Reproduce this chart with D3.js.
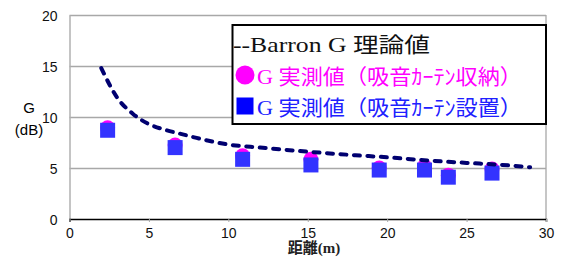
<!DOCTYPE html>
<html><head><meta charset="utf-8">
<script src="https://cdn.jsdelivr.net/npm/d3@7"></script>
<style>html,body{margin:0;padding:0;background:#fff;}svg{display:block;}</style>
</head><body>
<script>
// ---- data ----
const xTicks = [0, 5, 10, 15, 20, 25, 30];
const yTicks = [0, 5, 10, 15, 20];
const theoryX = [2, 3, 4, 5, 6, 7, 8, 10, 12, 15, 18, 20, 22, 25, 27, 29];
const theoryG = [14.8, 11.9, 10.3, 9.3, 8.75, 8.35, 7.95, 7.3, 7.0, 6.6, 6.25, 6.05, 5.8, 5.5, 5.33, 5.07];
const measX = [2.4, 6.65, 10.9, 15.2, 19.5, 22.35, 23.85, 26.6];
const measStored = [8.95, 7.25, 6.2, 5.85, 5.0, 5.15, 4.3, 4.9];
const measInstalled = [8.7, 7.0, 5.85, 5.3, 4.8, 4.8, 4.1, 4.5];
const legendLabels = ["--Barron G 理論値", "G 実測値（吸音ｶｰﾃﾝ収納）", "G 実測値（吸音ｶｰﾃﾝ設置）"];
const xTitle = "距離(m)";
const yTitle = ["G", "(dB)"];

const W = 561, H = 257;
const svg = d3.select("body").append("svg").attr("width", W).attr("height", H);
const x = d3.scaleLinear().domain([0, 30]).range([69.5, 546]);
const y = d3.scaleLinear().domain([0, 20]).range([219, 15]);
const sans = "'Liberation Sans', Arial, sans-serif";
const serif = "'Liberation Serif', 'Noto Sans CJK JP', serif";

// gridlines
svg.append("g").selectAll("line").data(yTicks.filter(d => d > 0)).join("line")
  .attr("x1", x(0)).attr("x2", x(30))
  .attr("y1", d => Math.round(y(d)) + 0.5).attr("y2", d => Math.round(y(d)) + 0.5)
  .attr("stroke", "#a8a8a8").attr("stroke-width", 1.3);
// right border
svg.append("line").attr("x1", x(30)).attr("x2", x(30)).attr("y1", y(20)).attr("y2", y(0))
  .attr("stroke", "#a8a8a8").attr("stroke-width", 1.3);

// y axis
const yAxis = svg.append("g").attr("transform", `translate(${x(0)},0)`)
  .call(d3.axisLeft(y).tickValues(yTicks).tickSize(0).tickPadding(12));
yAxis.select(".domain").attr("stroke", "#b0b0b0").attr("stroke-width", 1.5);
yAxis.selectAll("text").attr("font-family", sans).attr("font-size", 14).attr("fill", "#111")
  .attr("dy", "0.4em");

// x axis
const xAxis = svg.append("g").attr("transform", `translate(0,${y(0)})`)
  .call(d3.axisBottom(x).tickValues(xTicks).tickSize(3).tickPadding(6));
xAxis.select(".domain").attr("stroke", "#000").attr("stroke-width", 1.5);
xAxis.selectAll(".tick line").attr("stroke", "#aaa");
xAxis.selectAll("text").attr("font-family", sans).attr("font-size", 14).attr("fill", "#111");

// axis titles
svg.append("text").attr("x", 29).attr("y", 113).attr("text-anchor", "middle")
  .attr("font-family", sans).attr("font-size", 15).text(yTitle[0]);
svg.append("text").attr("x", 29).attr("y", 135).attr("text-anchor", "middle")
  .attr("font-family", sans).attr("font-size", 15).text(yTitle[1]);
svg.append("text").attr("x", 314).attr("y", 253).attr("text-anchor", "middle")
  .attr("font-family", serif).attr("font-size", 15).attr("font-weight", "bold").attr("fill", "#222").text(xTitle);

// markers
const g = svg.append("g");
g.selectAll("circle.m").data(measX).join("circle").attr("class", "m")
  .attr("cx", (d) => x(d)).attr("cy", (d, i) => y(measStored[i])).attr("r", 7.5)
  .attr("fill", "#ff00ff");
g.selectAll("rect.m").data(measX).join("rect").attr("class", "m")
  .attr("x", d => x(d) - 7.5).attr("y", (d, i) => y(measInstalled[i]) - 7.5)
  .attr("width", 15).attr("height", 15).attr("fill", "#3333ff");

// theory curve
const line = d3.line().x(d => x(d[0])).y(d => y(d[1])).curve(d3.curveMonotoneX);
svg.append("path").datum(theoryX.map((v, i) => [v, theoryG[i]]))
  .attr("d", line).attr("fill", "none").attr("stroke", "#000070")
  .attr("stroke-width", 4).attr("stroke-dasharray", "6,7.5").attr("stroke-linecap", "round");

// legend
const lg = svg.append("g");
lg.append("rect").attr("x", 232.5).attr("y", 25).attr("width", 313.5).attr("height", 99)
  .attr("fill", "#fff").attr("stroke", "#000").attr("stroke-width", 2);
lg.append("text").attr("x", 233).attr("y", 52).attr("font-family", serif).attr("font-size", 21)
  .attr("fill", "#111").attr("textLength", 197).attr("lengthAdjust", "spacingAndGlyphs").text(legendLabels[0]);
lg.append("circle").attr("cx", 245).attr("cy", 75).attr("r", 9.5).attr("fill", "#ff00ff");
lg.append("text").attr("x", 257).attr("y", 83.5).attr("font-family", serif).attr("font-size", 21)
  .attr("fill", "#ff00ff").attr("textLength", 265).attr("lengthAdjust", "spacingAndGlyphs").text(legendLabels[1]);
lg.append("rect").attr("x", 236.5).attr("y", 97.5).attr("width", 17).attr("height", 17).attr("fill", "#0000ff");
lg.append("text").attr("x", 257).attr("y", 115).attr("font-family", serif).attr("font-size", 21)
  .attr("fill", "#2020ff").attr("textLength", 265).attr("lengthAdjust", "spacingAndGlyphs").text(legendLabels[2]);
</script>
</body></html>
